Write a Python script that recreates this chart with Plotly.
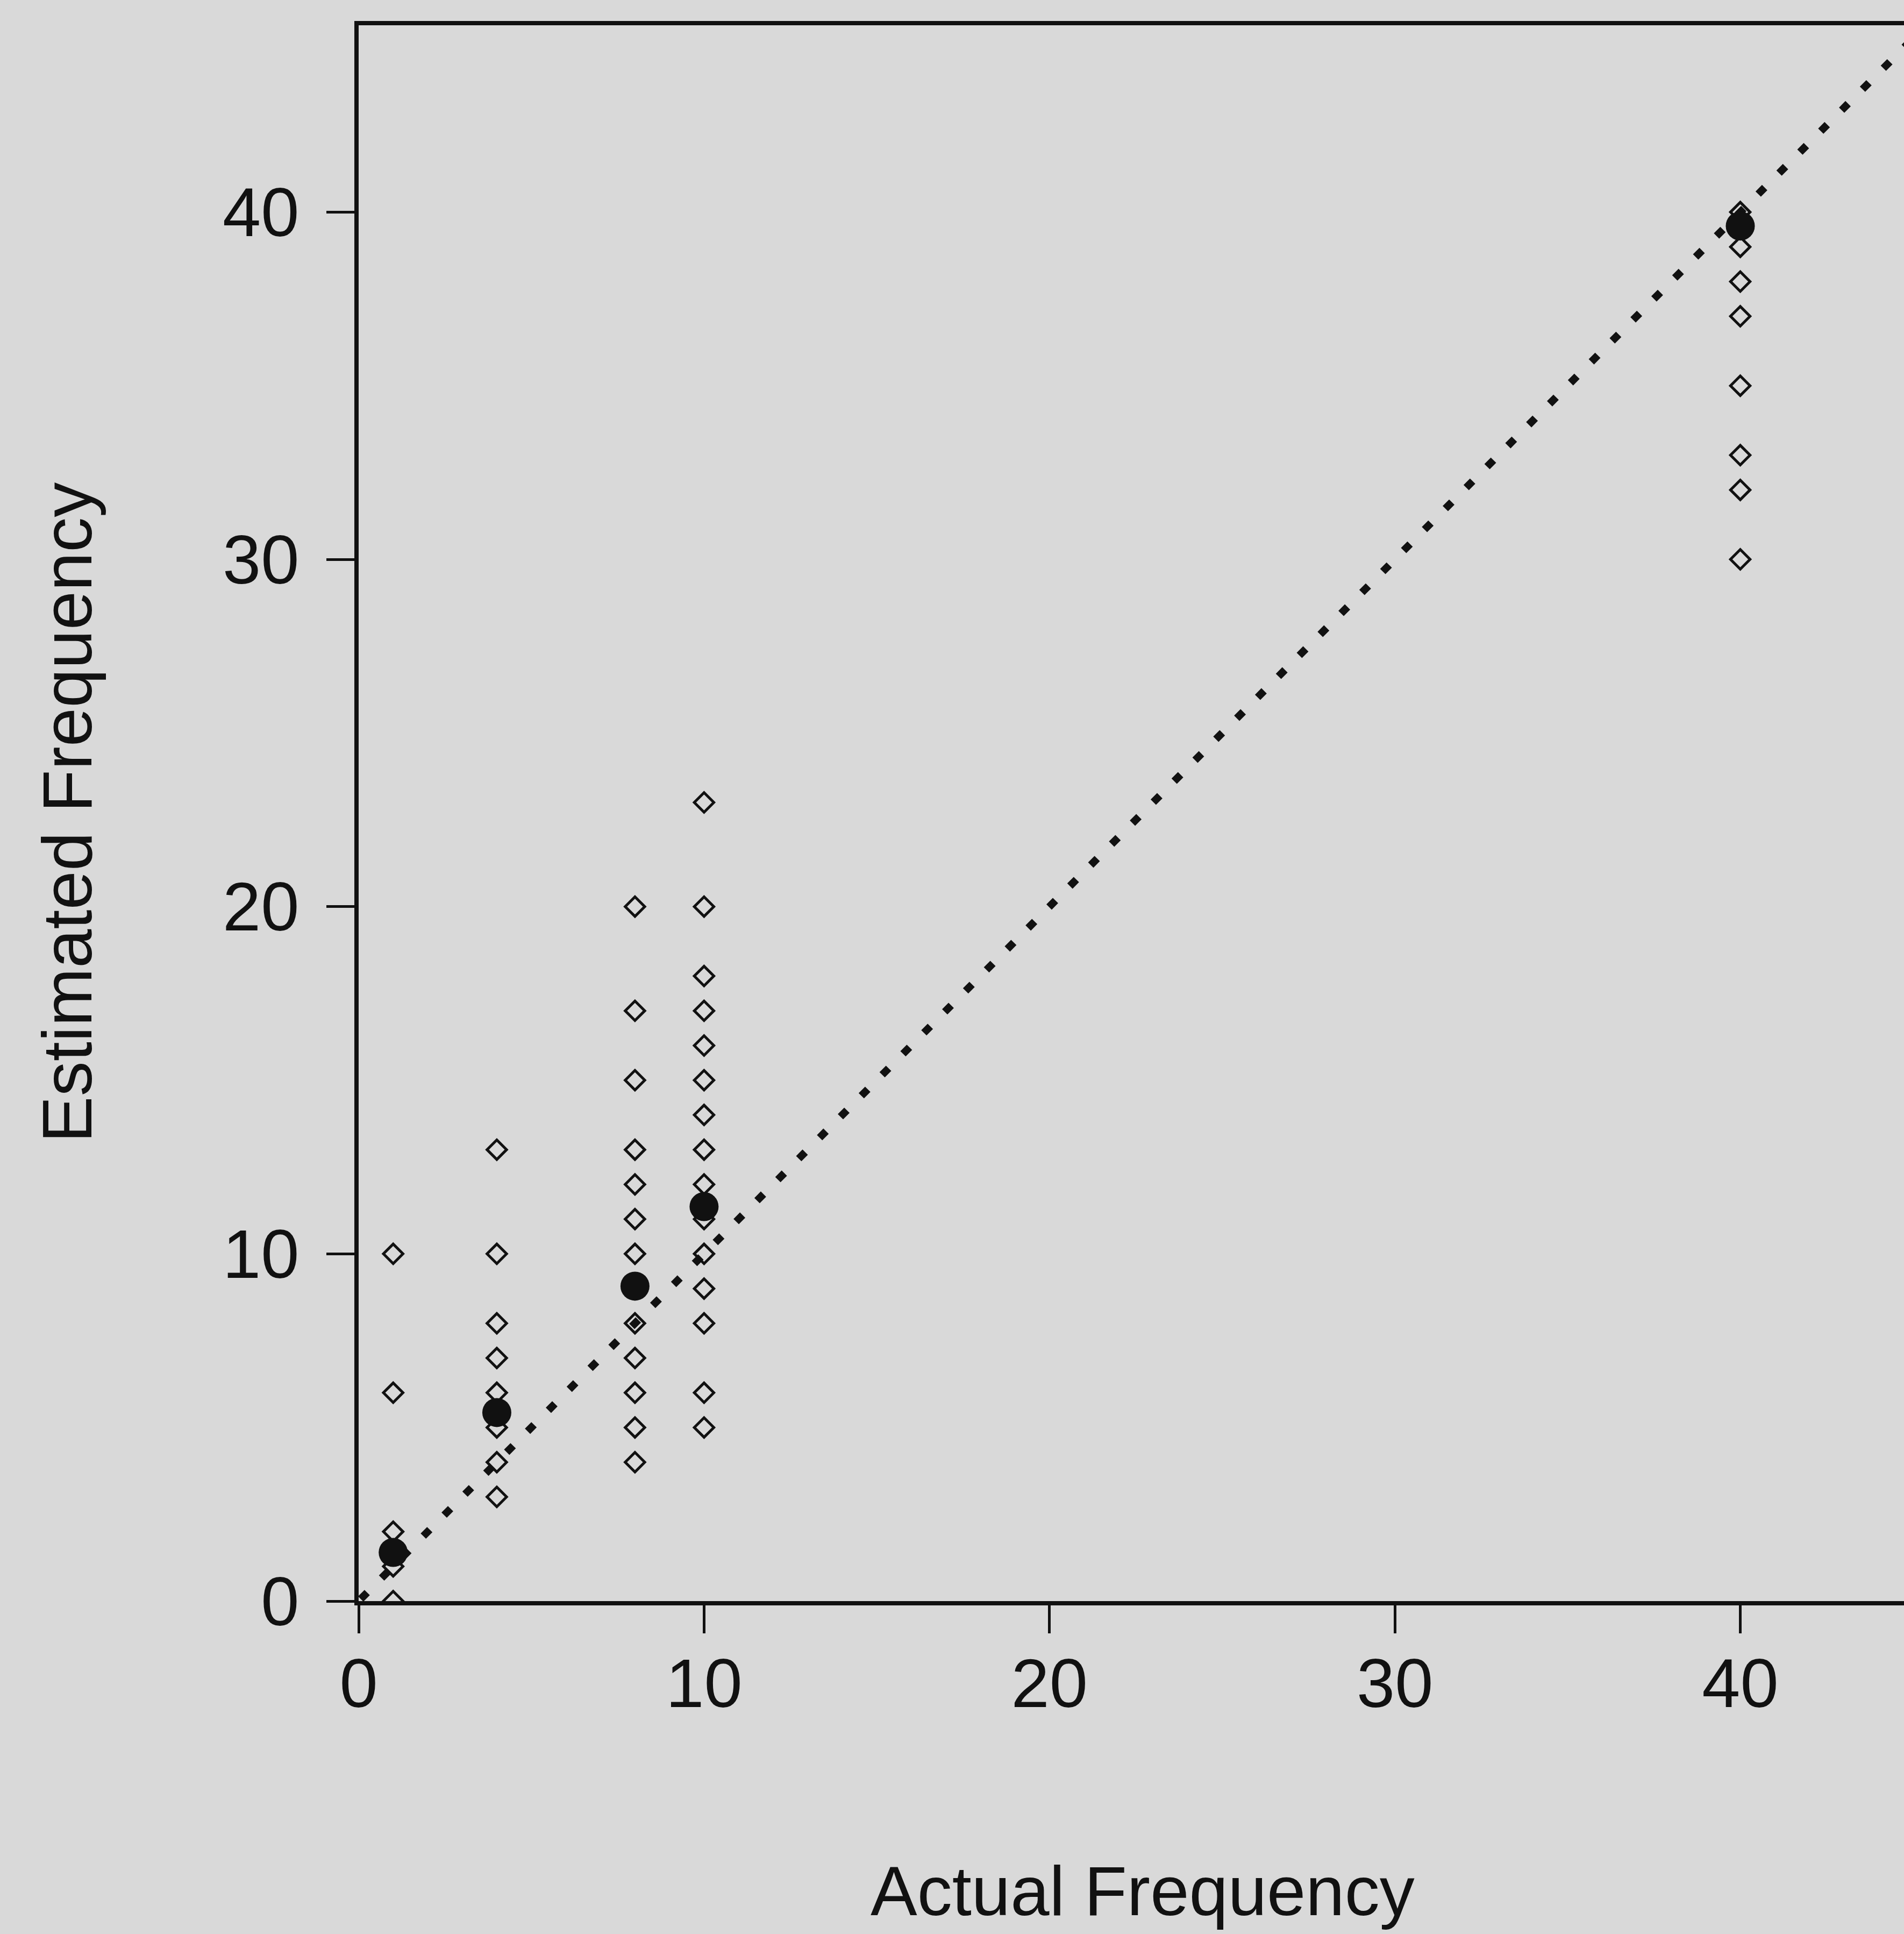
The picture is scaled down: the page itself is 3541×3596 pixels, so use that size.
import plotly.graph_objects as go

# ---- data ----
actual_levels = [1, 4, 8, 10, 40]
est_at_1 = [10, 6, 2, 1, 0]
est_at_4 = [13, 10, 8, 7, 6, 5, 4, 3]
est_at_8 = [20, 17, 15, 13, 12, 11, 10, 8, 7, 6, 5, 4]
est_at_10 = [23, 20, 18, 17, 16, 15, 14, 13, 12, 11, 10, 9, 8, 6, 5]
est_at_40 = [40, 39, 38, 37, 35, 33, 32, 30]
mean_estimates = [1.4, 5.43, 9.07, 11.36, 39.6]
identity_line = [0.06, 46]
tick_values = [0, 10, 20, 30, 40]

W, H = 3541, 3596
L, R, T, B = 667, 0, 47, 619
BG = "#d9d9d9"
FONT = "Liberation Sans, Arial, sans-serif"

fig = go.Figure()

# identity (dotted) line
fig.add_trace(go.Scatter(
    x=identity_line, y=identity_line, mode="lines",
    line=dict(color="#111111", width=14, dash="17px,38px"),
    hoverinfo="skip", showlegend=False))

groups = [est_at_1, est_at_4, est_at_8, est_at_10, est_at_40]
for lvl, vals in zip(actual_levels, groups):
    fig.add_trace(go.Scatter(
        x=[lvl] * len(vals), y=vals, mode="markers",
        marker=dict(symbol="diamond-open", size=28,
                    color="#111111", line=dict(width=5, color="#111111")),
        showlegend=False))

fig.add_trace(go.Scatter(
    x=actual_levels, y=mean_estimates, mode="markers",
    marker=dict(symbol="circle", size=54, color="#111111"),
    showlegend=False))

axis_common = dict(
    showgrid=False, zeroline=False, showline=True, linecolor="#111111",
    linewidth=8, ticks="outside", ticklen=52, tickwidth=5,
    tickcolor="#111111", tickvals=tick_values,
    tickfont=dict(family=FONT, size=128, color="#111111"),
)

fig.update_layout(
    width=W, height=H,
    margin=dict(l=L, r=R, t=T, b=B, pad=0),
    paper_bgcolor=BG, plot_bgcolor=BG,
    xaxis=dict(range=[0, 44.74], mirror=True, ticklabelstandoff=-17,
               **axis_common),
    yaxis=dict(range=[0, 45.38], mirror=False, ticklabelstandoff=25,
               **axis_common),
    showlegend=False,
)

pw = W - L - R
ph = H - T - B

def px_x(p):
    return (p - L) / pw

def px_y(p):
    return (H - B - p) / ph

fig.add_annotation(text="Actual Frequency", xref="paper", yref="paper",
                   x=px_x(2125), y=px_y(3516), xanchor="center",
                   yanchor="middle", showarrow=False,
                   font=dict(family=FONT, size=130, color="#111111"))
fig.add_annotation(text="Estimated Frequency", xref="paper", yref="paper",
                   x=px_x(125), y=px_y(1511), xanchor="center",
                   yanchor="middle", textangle=-90, showarrow=False,
                   font=dict(family=FONT, size=130, color="#111111"))

fig.write_html("out.html")
